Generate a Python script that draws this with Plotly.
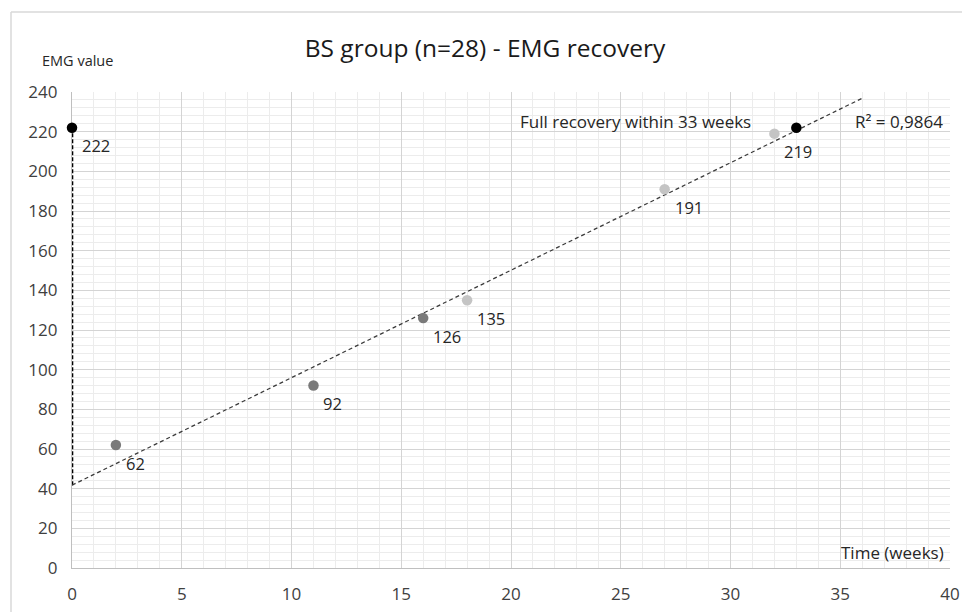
import numpy as np
import plotly.graph_objects as go

# ---- data ----
weeks = [0, 2, 11, 16, 18, 27, 32, 33]
emg = [222, 62, 92, 126, 135, 191, 219, 222]
point_group = ["ref", "dark", "dark", "dark", "light", "light", "light", "ref"]
label_text = ["222", "62", "92", "126", "135", "191", "219", ""]
trend_x_range = [0, 36]
r2_text = "R² = 0,9864"
x_ticks = [0, 5, 10, 15, 20, 25, 30, 35, 40]
y_ticks = [0, 20, 40, 60, 80, 100, 120, 140, 160, 180, 200, 220, 240]

FONT = "Open Sans"
group_colors = {"ref": "#000000", "dark": "#7a7a7a", "light": "#c4c4c4"}

# trend fit on the recovery points (excluding the reference points)
fit_x = [w for w, g in zip(weeks, point_group) if g != "ref"]
fit_y = [v for v, g in zip(emg, point_group) if g != "ref"]
slope, intercept = np.polyfit(fit_x, fit_y, 1)
tx = np.array(trend_x_range, dtype=float)
ty = slope * tx + intercept

fig = go.Figure()

# vertical dashed line at week 0 from trend start to reference value
fig.add_trace(go.Scatter(x=[weeks[0], weeks[0]], y=[intercept, emg[0]], mode="lines",
                         line=dict(color="#000000", width=2.6, dash="4px,2px"),
                         cliponaxis=False, hoverinfo="skip", showlegend=False))
# trend line
fig.add_trace(go.Scatter(x=tx, y=ty, mode="lines",
                         line=dict(color="#3a3a3a", width=1.25, dash="4px,3px"),
                         hoverinfo="skip", showlegend=False))
# points
fig.add_trace(go.Scatter(x=weeks, y=emg, mode="markers", cliponaxis=False,
                         marker=dict(size=10.5, color=[group_colors[g] for g in point_group]),
                         showlegend=False))

annotations = []
for x, y, t in zip(weeks, emg, label_text):
    if not t:
        continue
    annotations.append(dict(x=x, y=y, text=t, showarrow=False, xanchor="left", yanchor="middle",
                            xshift=8, yshift=-18,
                            font=dict(family=FONT, size=16.5, color="#262626")))

annotations += [
    dict(x=20.3, y=225, text="Full recovery within 33 weeks", showarrow=False,
         xanchor="left", yanchor="middle", font=dict(family=FONT, size=17, color="#262626")),
    dict(x=35.6, y=225, text=r2_text, showarrow=False,
         xanchor="left", yanchor="middle", font=dict(family=FONT, size=17, color="#262626")),
    dict(xref="paper", yref="paper", x=0.996, y=0.032, text="Time (weeks)", showarrow=False,
         xanchor="right", yanchor="middle", font=dict(family=FONT, size=17, color="#262626")),
    dict(xref="paper", yref="paper", x=-0.037, y=1.067, text="EMG value", showarrow=False,
         xanchor="left", yanchor="middle", font=dict(family=FONT, size=14.5, color="#262626")),
]

# page body adds an 8px offset; size the figure so the plot area lands at the reference spot
W, H = 962, 604
fig.update_layout(
    width=W, height=H,
    margin=dict(l=64, r=20, t=84, b=44, autoexpand=False),
    paper_bgcolor="white", plot_bgcolor="white",
    title=dict(text="BS group (n=28) - EMG recovery", x=(485 - 8) / W, xref="container",
               xanchor="center", y=1 - 40 / H, yanchor="middle", yref="container",
               font=dict(family=FONT, size=24.5, color="#1a1a1a")),
    annotations=annotations,
    showlegend=False,
    shapes=[
        dict(type="line", xref="paper", yref="paper", x0=(11 - 72) / 878, x1=1.05,
             y0=(568 - 12) / 476, y1=(568 - 12) / 476, line=dict(color="#d9d9d9", width=1.5)),
        dict(type="line", xref="paper", yref="paper", x0=(11 - 72) / 878, x1=(11 - 72) / 878,
             y0=(568 - 12) / 476, y1=-0.2, line=dict(color="#d9d9d9", width=1.5)),
    ],
)

fig.update_xaxes(range=[0, 40], tickvals=x_ticks, showgrid=True, gridcolor="#d4d4d4", gridwidth=1,
                 minor=dict(dtick=1, showgrid=True, gridcolor="#ececec", gridwidth=1),
                 showline=True, linecolor="#bfbfbf", linewidth=1.2, zeroline=False,
                 layer="below traces",
                 ticks="", ticklabelstandoff=10, automargin=False,
                 tickfont=dict(family=FONT, size=17, color="#404040"))
fig.update_yaxes(range=[0, 240], tickvals=y_ticks, showgrid=True, gridcolor="#d4d4d4", gridwidth=1,
                 minor=dict(dtick=4, showgrid=True, gridcolor="#ececec", gridwidth=1),
                 showline=True, linecolor="#bfbfbf", linewidth=1.2, zeroline=False,
                 layer="below traces",
                 ticks="", ticklabelstandoff=10, automargin=False,
                 tickfont=dict(family=FONT, size=17, color="#404040"))

fig.write_html("out.html")
